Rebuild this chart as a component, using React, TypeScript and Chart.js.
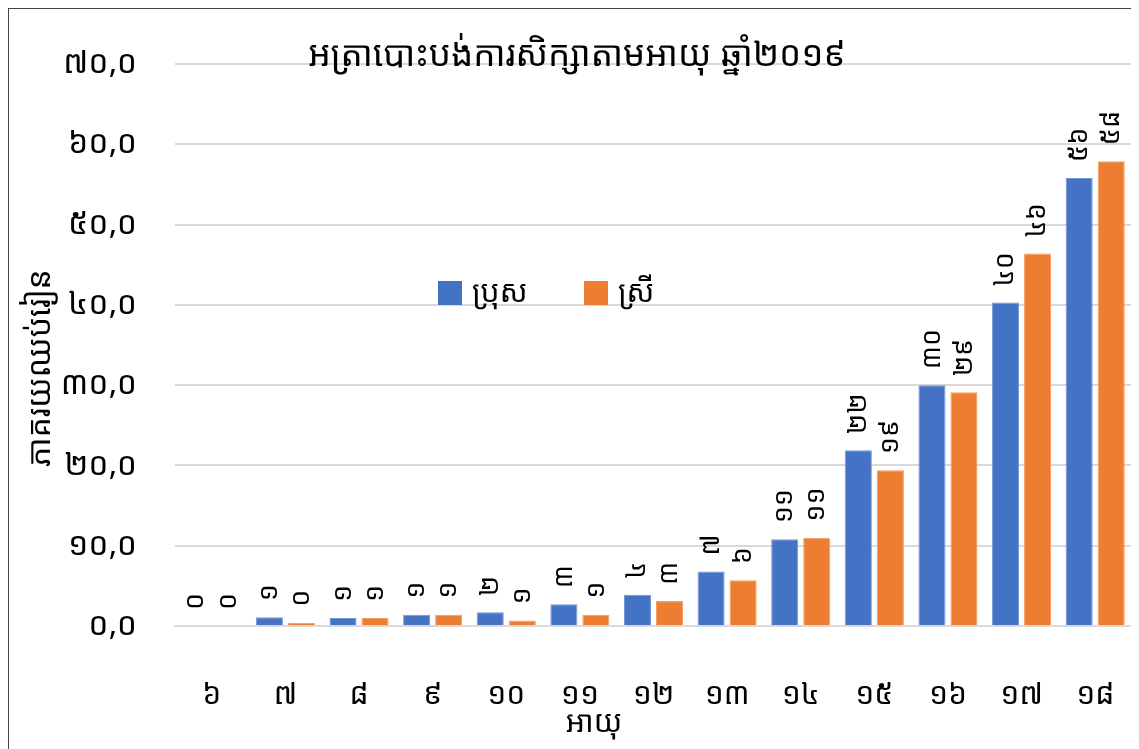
import React, { useEffect, useRef } from "react";
import { Chart, registerables } from "chart.js";

Chart.register(...registerables);

const categories = ["៦", "៧", "៨", "៩", "១០", "១១", "១២", "១៣", "១៤", "១៥", "១៦", "១៧", "១៨"];
const maleValues = [0, 1.1, 1.0, 1.4, 1.7, 2.7, 3.9, 6.8, 10.8, 21.9, 30.0, 40.3, 55.8];
const femaleValues = [0, 0.4, 1.0, 1.4, 0.7, 1.4, 3.1, 5.7, 11.0, 19.4, 29.1, 46.4, 57.9];
const seriesNames = ["ប្រុស", "ស្រី"];
const chartTitle = "អត្រាបោះបង់ការសិក្សាតាមអាយុ ឆ្នាំ២០១៩";
const yTitle = "ភាគរយឈប់រៀន";
const xTitle = "អាយុ";

const KH_DIGITS = "០១២៣៤៥៦៧៨៩";
const toKhmer = (s: string) => s.replace(/[0-9]/g, (d) => KH_DIGITS[Number(d)]);

const FONT = "'Noto Sans Khmer', 'Khmer OS', 'Khmer OS System', 'Noto Sans', sans-serif";
const BLUE = "#4472C4";
const ORANGE = "#ED7D31";

const overlayPlugin = {
  id: "overlay",
  afterDatasetsDraw(chart: any) {
    const ctx = chart.ctx;
    ctx.save();
    // data labels
    ctx.fillStyle = "#000";
    ctx.font = `27px ${FONT}`;
    chart.data.datasets.forEach((ds: any, di: number) => {
      const meta = chart.getDatasetMeta(di);
      meta.data.forEach((bar: any, i: number) => {
        const v = ds.data[i];
        const txt = toKhmer(String(Math.round(v)));
        ctx.save();
        ctx.translate(bar.x, bar.y - 16);
        ctx.rotate(-Math.PI / 2);
        ctx.textAlign = "left";
        ctx.textBaseline = "middle";
        ctx.fillText(txt, 0, 0);
        ctx.restore();
      });
    });
    // title
    ctx.font = `35px ${FONT}`;
    ctx.textAlign = "center";
    ctx.textBaseline = "middle";
    ctx.fillText(chartTitle, 568, 47);
    // axis titles
    ctx.font = `30px ${FONT}`;
    ctx.fillText(xTitle, 585, 714);
    ctx.save();
    ctx.translate(32, 359);
    ctx.rotate(-Math.PI / 2);
    ctx.font = `32px ${FONT}`;
    ctx.fillText(yTitle, 0, 0);
    ctx.restore();
    // legend
    const area = chart.chartArea;
    const ly = area.top + 229;
    const items = [
      { x: 429, color: BLUE, text: seriesNames[0] },
      { x: 575, color: ORANGE, text: seriesNames[1] },
    ];
    ctx.font = `30px ${FONT}`;
    ctx.textAlign = "left";
    items.forEach((it) => {
      ctx.fillStyle = it.color;
      ctx.fillRect(it.x, ly - 12, 24, 24);
      ctx.fillStyle = "#000";
      ctx.fillText(it.text, it.x + 34, ly);
    });
    ctx.restore();
  },
};

export default function App() {
  const ref = useRef<HTMLCanvasElement | null>(null);
  useEffect(() => {
    document.body.style.overflow = "hidden";
    if (!ref.current) return;
    const chart = new Chart(ref.current, {
      type: "bar",
      data: {
        labels: categories,
        datasets: [
          { label: seriesNames[0], data: maleValues, backgroundColor: BLUE, borderColor: "#7396d8", borderWidth: 1 },
          { label: seriesNames[1], data: femaleValues, backgroundColor: ORANGE, borderColor: "#f39c62", borderWidth: 1 },
        ],
      },
      plugins: [overlayPlugin],
      options: {
        animation: false,
        responsive: false,
        maintainAspectRatio: false,
        layout: { padding: { top: 55, right: 7, left: 0, bottom: 0 } },
        plugins: { legend: { display: false }, title: { display: false }, tooltip: { enabled: false } },
        datasets: { bar: { categoryPercentage: 0.87, barPercentage: 0.845 } },
        scales: {
          x: {
            grid: { display: false },
            border: { color: "#d9d9d9", width: 2 },
            ticks: { color: "#000", font: { family: FONT, size: 30 }, padding: 43, maxRotation: 0, autoSkip: false },
            afterFit: (s: any) => {
              s.height = 123;
              s.paddingLeft = 0;
              s.paddingRight = 0;
            },
          },
          y: {
            min: 0,
            max: 70,
            ticks: {
              stepSize: 10,
              color: "#000",
              font: { family: FONT, size: 32 },
              padding: 38,
              callback: (v: any) => toKhmer(Number(v).toFixed(1).replace(".", ",")),
            },
            grid: { color: "#d9d9d9", lineWidth: 2, drawTicks: false },
            border: { display: false },
            afterFit: (s: any) => {
              s.width = 166;
              s.paddingTop = 0;
              s.paddingBottom = 0;
            },
          },
        },
      },
    });
    return () => chart.destroy();
  }, []);
  return (
    <div style={{ width: 1131, height: 741, borderLeft: "1px solid #444", borderTop: "1px solid #444", boxSizing: "border-box", background: "#fff" }}>
      <canvas ref={ref} width={1130} height={740} style={{ display: "block" }} />
    </div>
  );
}
